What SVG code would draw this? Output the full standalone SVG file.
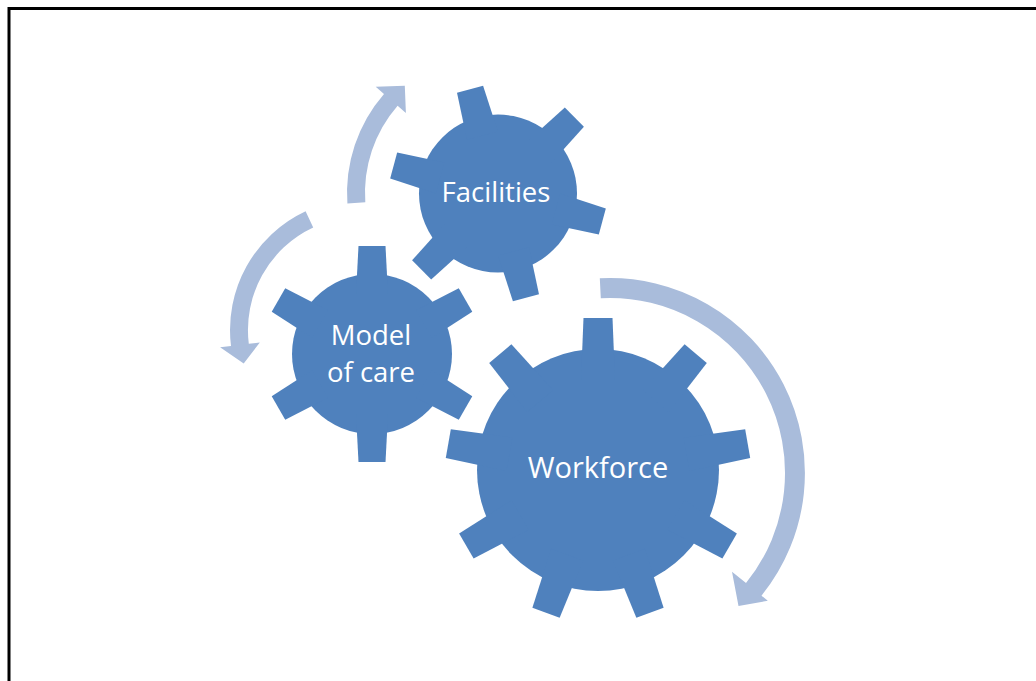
<svg xmlns="http://www.w3.org/2000/svg" width="1036" height="681" viewBox="0 0 1036 681">
  <style>
    .gear { fill: #4F81BD; }
    .arrow { fill: #A9BCDB; }
    .label { fill: #FFFFFF; font-family: "Open Sans", Lato, "Liberation Sans", sans-serif; text-anchor: middle; font-variant-ligatures: none; }
  </style>
  <defs>
    <!-- gear teeth, pointing along +x from the gear centre -->
    <polygon id="tooth6" points="60,-16 108,-13.5 108,13.5 60,16"/>
    <polygon id="tooth9" points="90,-17 152,-14.5 152,14.5 90,17"/>
  </defs>

  <rect x="0" y="0" width="1036" height="681" fill="#FFFFFF"/>
  <!-- frame -->
  <path d="M9,681 V8.5 H1036" fill="none" stroke="#000000" stroke-width="3"/>

  <!-- curved arrows -->
  <g id="connectors">
    <path class="arrow" d="M599.8,278.3 A195,195 0 0 1 761.5,595.7 L767.8,600.7 L738.5,606.1 L732,571.8 L746,583.1 A175,175 0 0 0 600.8,298.2 Z"/>
    <path class="arrow" d="M347.4,203.5 A151,151 0 0 1 384,93.9 L375.7,86.7 L404.8,85.8 L405.9,113 L397.6,105.7 A133,133 0 0 0 365.3,202.3 Z"/>
    <path class="arrow" d="M305.6,211.3 A131,131 0 0 0 231,346 L220.1,347.3 L243.7,363.6 L259.8,342.4 L248.8,343.8 A113,113 0 0 1 313.2,227.6 Z"/>
  </g>

  <g id="facilities" class="gear">
    <g transform="translate(498,193.5)">
      <circle r="79"/>
      <use href="#tooth6" transform="rotate(-165)"/>
      <use href="#tooth6" transform="rotate(-105)"/>
      <use href="#tooth6" transform="rotate(-45)"/>
      <use href="#tooth6" transform="rotate(15)"/>
      <use href="#tooth6" transform="rotate(75)"/>
      <use href="#tooth6" transform="rotate(135)"/>
    </g>
    <text class="label" x="496" y="202" font-size="27.5">Facilities</text>
  </g>

  <g id="model-of-care" class="gear">
    <g transform="translate(372,354)">
      <circle r="80"/>
      <use href="#tooth6" transform="rotate(-90)"/>
      <use href="#tooth6" transform="rotate(-30)"/>
      <use href="#tooth6" transform="rotate(30)"/>
      <use href="#tooth6" transform="rotate(90)"/>
      <use href="#tooth6" transform="rotate(150)"/>
      <use href="#tooth6" transform="rotate(210)"/>
    </g>
    <text class="label" x="371" y="345" font-size="27.5">Model</text>
    <text class="label" x="371" y="382" font-size="27.5">of care</text>
  </g>

  <g id="workforce" class="gear">
    <g transform="translate(598,470)">
      <circle r="121"/>
      <use href="#tooth9" transform="rotate(-90)"/>
      <use href="#tooth9" transform="rotate(-50)"/>
      <use href="#tooth9" transform="rotate(-10)"/>
      <use href="#tooth9" transform="rotate(30)"/>
      <use href="#tooth9" transform="rotate(70)"/>
      <use href="#tooth9" transform="rotate(110)"/>
      <use href="#tooth9" transform="rotate(150)"/>
      <use href="#tooth9" transform="rotate(190)"/>
      <use href="#tooth9" transform="rotate(230)"/>
    </g>
    <text class="label" x="598" y="478" font-size="29">Workforce</text>
  </g>
</svg>
